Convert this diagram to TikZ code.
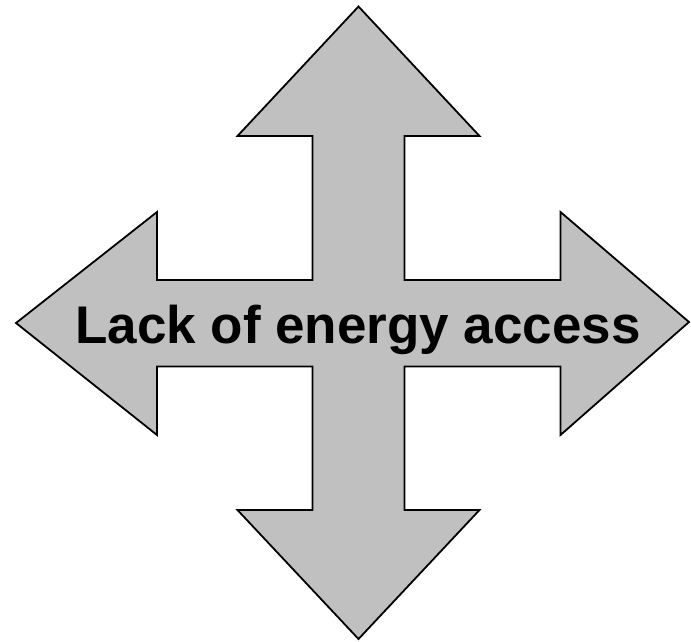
\documentclass[tikz,border=0pt]{standalone}
\usepackage{fontspec}
\setmainfont{Liberation Sans}
\usetikzlibrary{positioning}
\definecolor{arrowgray}{HTML}{C0C0C0}

\begin{document}
\begin{tikzpicture}[x=1pt,y=-1pt,
    crossarrow/.style={fill=arrowgray,draw=black,line width=1.8pt,line join=miter},
    lbl/.style={font=\fontsize{53}{60}\selectfont\bfseries,inner sep=0pt,anchor=base}]
    \useasboundingbox (0,0) rectangle (691,641);
    % four-way arrow
    \draw[crossarrow] (358.5,6.5) -- (479.5,136) -- (404.5,136) -- (404.5,280)
      -- (560.5,280) -- (560.5,212) -- (689,322) -- (560.5,435) -- (560.5,366.5)
      -- (404.5,366.5) -- (404.5,510) -- (479.5,510) -- (358.5,639) -- (237.5,510)
      -- (312.5,510) -- (312.5,366.5) -- (157,366.5) -- (157,435) -- (16,323)
      -- (157,212) -- (157,280) -- (312.5,280) -- (312.5,136) -- (237.5,136) -- cycle;
    \node[lbl] (lack) at (358,343) {Lack of energy access};
  \end{tikzpicture}
\end{document}
